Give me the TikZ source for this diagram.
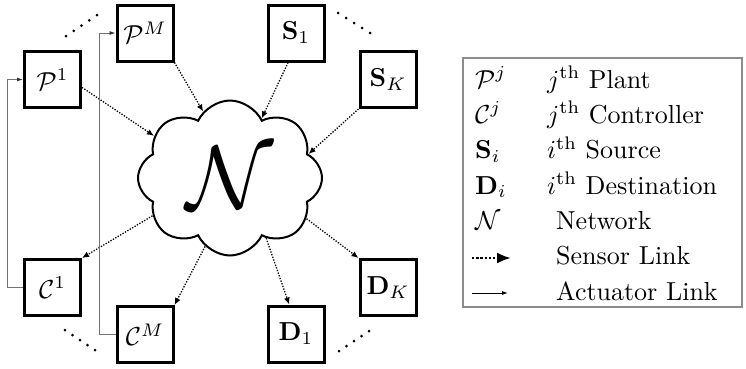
\RequirePackage{fix-cm}
\documentclass[tikz,border=0pt]{standalone}
\usepackage{amsmath,amssymb,graphicx}
\usetikzlibrary{shapes.symbols,arrows.meta,calc}
\newcommand{\bigtxt}[1]{\scalebox{2.6}{#1}}
\begin{document}
\begin{tikzpicture}[x=1pt,y=-1pt,
  blk/.style={draw,line width=3pt,minimum size=56pt,inner sep=0pt},
  sens/.style={line width=1.3pt,dash pattern=on 1.3pt off 1.5pt,-{Latex[length=7pt,width=6pt]}},
  act/.style={draw=black!55,line width=0.9pt,-{Latex[length=6pt,width=4pt,color=black!80]}},
  lg/.style={anchor=base west,inner sep=0pt},
  dotsrow/.style={fill=black}]
\useasboundingbox (0,0) rectangle (746,368);

% blocks
\node[blk] (P1) at (52.5,79.5) {\bigtxt{$\mathcal{P}^1$}};
\node[blk] (PM) at (145,33) {\bigtxt{$\mathcal{P}^M$}};
\node[blk] (S1) at (296,33) {\bigtxt{$\mathbf{S}_1$}};
\node[blk] (SK) at (388,79.5) {\bigtxt{$\mathbf{S}_K$}};
\node[blk] (C1) at (52.5,287.5) {\bigtxt{$\mathcal{C}^1$}};
\node[blk] (CM) at (145,334.5) {\bigtxt{$\mathcal{C}^M$}};
\node[blk] (D1) at (296,334) {\bigtxt{$\mathbf{D}_1$}};
\node[blk] (DK) at (388,287.5) {\bigtxt{$\mathbf{D}_K$}};

% network cloud
\node[cloud, draw, cloud puffs=8, cloud puff arc=130, cloud ignores aspect,
      minimum width=184pt, minimum height=155pt, line width=2pt, inner sep=0pt,
      font=\fontsize{90}{90}\selectfont] (net) at (230,178) {$\mathcal{N}$};

% sensor links
\draw[sens] (P1.-15) -- (net.151);
\draw[sens] (PM.south east) -- (net.112);
\draw[sens] (S1.255) -- (net.62);
\draw[sens] (SK.south west) -- (net.17);
\draw[sens] (net.206) -- (C1.north east);
\draw[sens] (net.250) -- (CM.north east);
\draw[sens] (net.301) -- (D1.103);
\draw[sens] (net.332) -- (DK.north west);

% actuator links
\draw[act] (C1.west) -- ++(-16,0) |- (P1.west);
\draw[act] (CM.west) -- ++(-16,0) |- (PM.west);

% ellipsis dots
\foreach \k in {0,...,4} {
  \fill[dotsrow] ($(66,36)!\k/4!(97,15)$) circle (1.5pt);
  \fill[dotsrow] ($(338,13)!\k/4!(370,33)$) circle (1.5pt);
  \fill[dotsrow] ($(65,330)!\k/4!(95,350)$) circle (1.5pt);
  \fill[dotsrow] ($(339,351)!\k/4!(369,331)$) circle (1.5pt);
}

% legend
\node[draw=black!45,line width=1.8pt,minimum width=279pt,minimum height=249pt,inner sep=0pt] (legend) at (602.5,182.5) {};
\node[lg] (l1s) at (475,88) {\bigtxt{$\mathcal{P}^j$}};
\node[lg] (l1t) at (547,88) {\bigtxt{$j^{\mathrm{th}}$ Plant}};
\node[lg] (l2s) at (475,123.3) {\bigtxt{$\mathcal{C}^j$}};
\node[lg] (l2t) at (547,123.3) {\bigtxt{$j^{\mathrm{th}}$ Controller}};
\node[lg] (l3s) at (475,158.7) {\bigtxt{$\mathbf{S}_i$}};
\node[lg] (l3t) at (547,158.7) {\bigtxt{$i^{\mathrm{th}}$ Source}};
\node[lg] (l4s) at (475,194) {\bigtxt{$\mathbf{D}_i$}};
\node[lg] (l4t) at (547,194) {\bigtxt{$i^{\mathrm{th}}$ Destination}};
\node[lg] (l5s) at (475,229.3) {\bigtxt{$\mathcal{N}$}};
\node[lg] (l5t) at (556,229.3) {\bigtxt{Network}};
\node[lg] (l6t) at (556,264.7) {\bigtxt{Sensor Link}};
\node[lg] (l7t) at (556,300) {\bigtxt{Actuator Link}};
\coordinate (ss) at (472,258);
\coordinate (se) at (511,258);
\draw[line width=2.6pt,dash pattern=on 2.4pt off 1.8pt,-{Latex[length=14pt,width=11pt]}] (ss) -- (se);
\coordinate (as) at (472,293);
\coordinate (ae) at (508,293);
\draw[line width=0.9pt,-{Latex[length=6pt,width=4pt]}] (as) -- (ae);
\end{tikzpicture}
\end{document}
